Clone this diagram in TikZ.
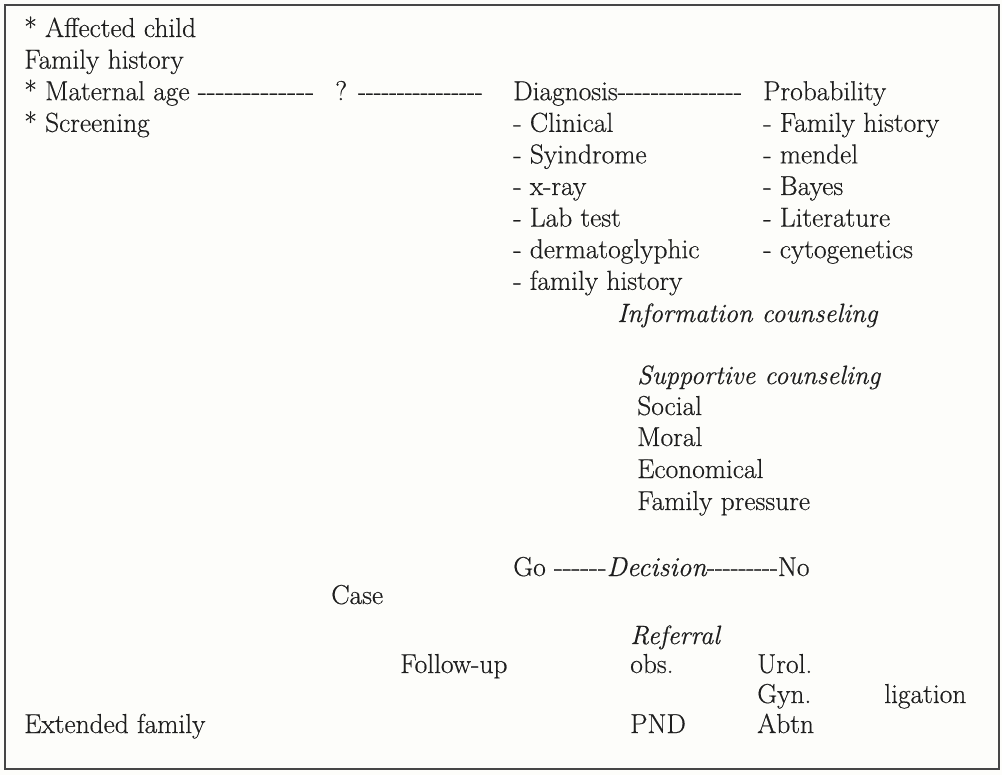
\documentclass[tikz,border=0pt]{standalone}
\usepackage{fontspec}
\setmainfont{Latin Modern Roman}[UprightFeatures={FakeBold=0.45}, ItalicFeatures={FakeBold=0.45}]
\usepackage{xcolor}
\definecolor{inkgray}{RGB}{30,30,30}
\definecolor{framegray}{RGB}{70,70,70}
\definecolor{paper}{RGB}{253,253,250}
\usepackage{tikz}
% a row of separate hyphens, squeezed or widened by #1
\newcommand{\dashrun}[2][1]{\foreach \k in {1,...,#2}{\scalebox{#1}[1]{-}}}
\tikzset{
    entry/.style={anchor=base west, inner sep=0pt, text=inkgray, font=\fontsize{19.5}{22}\selectfont},
    head/.style={entry, font=\fontsize{18.8}{22}\selectfont\itshape}
}
\begin{document}
\begin{tikzpicture}[x=0.025cm, y=-0.025cm]
    \useasboundingbox (0,0) rectangle (1002,775);
    \fill[paper] (0,0) rectangle (1002,775);
    \draw[framegray, line width=1.1pt] (5,5) rectangle (999,769);

    % left column
    \node[entry] (affected) at (24,37) {* Affected child};
    \node[entry] (famhist) at (24,68.6) {Family history};
    \node[entry] (matage) at (24,100.2) {* Maternal age \dashrun[1.08]{13}};
    \node[entry] (screening) at (24,131.8) {* Screening};
    \node[entry] (query) at (335,100.2) {? \dashrun[0.94]{16}};

    % diagnosis and probability
    \node[entry] (diagnosis) at (513,100.2) {Diagnosis\dashrun[1.0]{15}};
    \node[entry] (probability) at (763,100.2) {Probability};
    \node[entry] (clinical) at (513,131.8) {- Clinical};
    \node[entry] (syndrome) at (513,163.4) {- Syindrome};
    \node[entry] (xray) at (513,195) {- x-ray};
    \node[entry] (labtest) at (513,226.6) {- Lab test};
    \node[entry] (dermato) at (513,258.2) {- dermatoglyphic};
    \node[entry] (diagfam) at (513,289.8) {- family history};
    \node[entry] (probfam) at (763,131.8) {- Family history};
    \node[entry] (mendel) at (763,163.4) {- mendel};
    \node[entry] (bayes) at (763,195) {- Bayes};
    \node[entry] (literature) at (763,226.6) {- Literature};
    \node[entry] (cytogen) at (763,258.2) {- cytogenetics};

    % counseling
    \node[head] (information) at (617,322) {Information counseling};
    \node[head] (supportive) at (637,384) {Supportive counseling};
    \node[entry] (social) at (637,415) {Social};
    \node[entry] (moral) at (637,446) {Moral};
    \node[entry] (economical) at (637,478) {Economical};
    \node[entry] (pressure) at (637,510) {Family pressure};

    % decision
    \node[entry] (decision) at (513,576) {Go \dashrun[1.06]{6}\textit{Decision}\dashrun[0.95]{9}No};
    \node[entry] (case) at (331,604) {Case};
    \node[head] (referral) at (630,644) {Referral};
    \node[entry] (followup) at (400,673) {Follow-up};
    \node[entry] (obs) at (630,673) {obs.};
    \node[entry] (urol) at (757,673) {Urol.};
    \node[entry] (gyn) at (757,703) {Gyn.};
    \node[entry] (ligation) at (884,703) {ligation};
    \node[entry] (extended) at (24,733) {Extended family};
    \node[entry] (pnd) at (630,733) {PND};
    \node[entry] (abtn) at (757,733) {Abtn};
\end{tikzpicture}
\end{document}
